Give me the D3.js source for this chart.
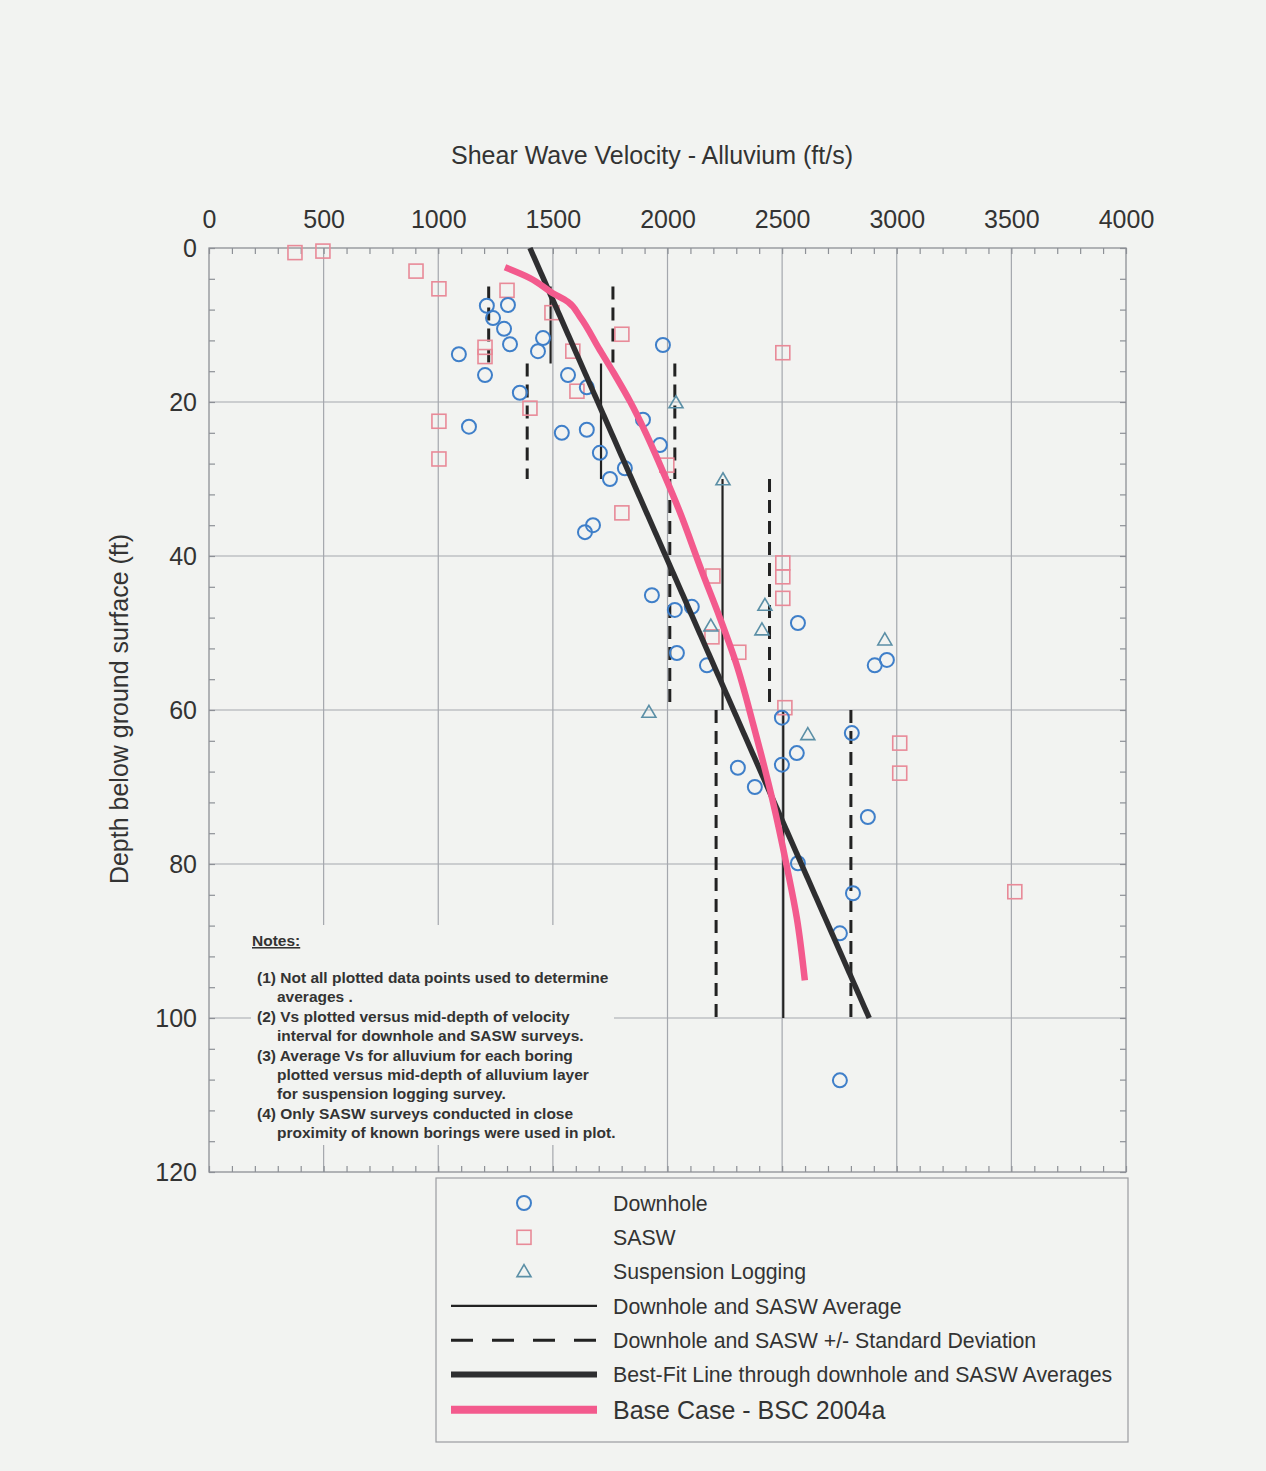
<!DOCTYPE html>
<html>
<head>
<meta charset="utf-8">
<script src="https://cdn.jsdelivr.net/npm/d3@7"></script>
<style>
html,body{margin:0;padding:0;background:#f2f3f1;}
svg{display:block;font-family:"Liberation Sans",Arial,sans-serif;}
</style>
</head>
<body>
<svg id="chart" width="1266" height="1471"></svg>
<script>
// ---------- DATA ----------
const xTickValues = [0,500,1000,1500,2000,2500,3000,3500,4000];
const yTickValues = [0,20,40,60,80,100,120];

// Downhole [velocity ft/s, depth ft]
const downhole = [
  [1212,7.5],[1304,7.4],[1239,9.1],[1287,10.5],[1313,12.5],[1090,13.8],[1204,16.5],
  [1134,23.2],[1356,18.8],[1457,11.7],[1435,13.4],[1566,16.5],[1648,18.1],[1539,24.0],
  [1648,23.6],[1705,26.6],[1749,30.0],[1814,28.6],[1980,12.6],[1893,22.3],[1967,25.6],
  [1640,36.9],[1675,36.0],[1932,45.1],[2032,47.0],[2106,46.6],[2041,52.6],[2172,54.2],
  [2569,48.7],[2904,54.2],[2957,53.5],[2499,61.0],[2804,63.0],[2564,65.6],[2499,67.1],
  [2307,67.5],[2381,70.0],[2874,73.9],[2569,79.9],[2809,83.8],[2752,89.0],[2752,108.1]
];
// SASW
const sasw = [
  [375,0.6],[497,0.4],[903,3.0],[1003,5.3],[1300,5.5],[1204,12.9],[1204,14.1],
  [1003,22.5],[1003,27.4],[1400,20.8],[1496,8.4],[1587,13.4],[1605,18.6],[1801,11.2],
  [1997,28.2],[1801,34.4],[2198,42.6],[2194,50.5],[2311,52.5],[2503,40.9],[2503,42.7],
  [2503,45.5],[2512,59.7],[2503,13.6],[3013,64.3],[3013,68.2],[3515,83.6]
];
// Suspension logging
const suspension = [
  [2037,20.1],[2242,30.1],[2425,46.4],[2412,49.6],[2189,49.1],[2948,50.9],[1919,60.3],[2612,63.2]
];

// Downhole & SASW averages by depth interval
const intervalTop    = [5, 15, 30, 60];
const intervalBottom = [15, 30, 60, 100];
const averageVs      = [1490, 1710, 2240, 2505];
const minusSD        = [1220, 1388, 2010, 2212];
const plusSD         = [1762, 2032, 2445, 2800];

// Best-fit line through averages
const bestFit = [[1400,0],[2880,100]];

// Base case - BSC 2004a
const baseCase = [
  [1291,2.5],[1400,3.9],[1496,5.8],[1566,7.0],[1620,9.0],[1700,13],[1765,16.2],[1838,20],
  [1905,24],[1965,28],[2050,34],[2150,42],[2228,48],[2300,54],[2375,62],[2458,71.7],
  [2521,80.4],[2564,87],[2599,95.1]
];

const notesLines = [
  ["(1) Not all plotted data points used to determine", 0],
  ["averages .", 1],
  ["(2) Vs plotted versus mid-depth of velocity", 0],
  ["interval for downhole and SASW surveys.", 1],
  ["(3) Average Vs for alluvium for each boring", 0],
  ["plotted versus mid-depth of alluvium layer", 1],
  ["for suspension logging survey.", 1],
  ["(4) Only SASW surveys conducted in close", 0],
  ["proximity of known borings were used in plot.", 1]
];

const legendItems = [
  {label:"Downhole", type:"circle"},
  {label:"SASW", type:"square"},
  {label:"Suspension Logging", type:"triangle"},
  {label:"Downhole and SASW Average", type:"avg"},
  {label:"Downhole and SASW +/- Standard Deviation", type:"sd"},
  {label:"Best-Fit Line through downhole and SASW Averages", type:"fit"},
  {label:"Base Case - BSC 2004a", type:"base"}
];

// ---------- STYLE ----------
const C = {
  grid:"#a4a7ad", axis:"#8d9096", text:"#333",
  blue:"#3f7fc9", pink:"#e88a98", teal:"#5b8fa6",
  fit:"#2e2e30", base:"#f35a8d", avg:"#222"
};

const svg = d3.select("#chart");
const x = d3.scaleLinear().domain([0,4000]).range([209,1126]);
const y = d3.scaleLinear().domain([0,120]).range([248,1172]);

// gridlines
const g = svg.append("g");
g.selectAll(".vg").data(xTickValues.slice(1,-1)).join("line")
  .attr("x1",d=>x(d)).attr("x2",d=>x(d)).attr("y1",y(0)).attr("y2",y(120))
  .attr("stroke",C.grid).attr("stroke-width",1.2);
g.selectAll(".hg").data(yTickValues.slice(1,-1)).join("line")
  .attr("x1",x(0)).attr("x2",x(4000)).attr("y1",d=>y(d)).attr("y2",d=>y(d))
  .attr("stroke",C.grid).attr("stroke-width",1.2);

// frame
g.append("rect").attr("x",x(0)).attr("y",y(0)).attr("width",x(4000)-x(0)).attr("height",y(120)-y(0))
  .attr("fill","none").attr("stroke",C.axis).attr("stroke-width",1.3);

// minor ticks
function styleAxis(sel){ sel.select(".domain").remove(); sel.selectAll("line").attr("stroke",C.axis).attr("stroke-width",1.2); }
svg.append("g").attr("transform",`translate(0,${y(0)})`)
  .call(d3.axisTop(x).tickValues(d3.range(0,4001,100)).tickSize(-6).tickFormat("")).call(styleAxis);
svg.append("g").attr("transform",`translate(0,${y(120)})`)
  .call(d3.axisBottom(x).tickValues(d3.range(0,4001,100)).tickSize(-6).tickFormat("")).call(styleAxis);
svg.append("g").attr("transform",`translate(${x(0)},0)`)
  .call(d3.axisLeft(y).tickValues(d3.range(0,121,4)).tickSize(-6).tickFormat("")).call(styleAxis);
svg.append("g").attr("transform",`translate(${x(4000)},0)`)
  .call(d3.axisRight(y).tickValues(d3.range(0,121,4)).tickSize(-6).tickFormat("")).call(styleAxis);

// tick labels
const xa = svg.append("g").attr("transform",`translate(0,${y(0)})`)
  .call(d3.axisTop(x).tickValues(xTickValues).tickSize(0).tickPadding(20).tickFormat(d3.format("d")));
xa.select(".domain").remove();
xa.selectAll("text").attr("font-size",25).attr("fill",C.text).attr("font-family","Liberation Sans, Arial, sans-serif");
const ya = svg.append("g").attr("transform",`translate(${x(0)},0)`)
  .call(d3.axisLeft(y).tickValues(yTickValues).tickSize(0).tickPadding(12).tickFormat(d3.format("d")));
ya.select(".domain").remove();
ya.selectAll("text").attr("font-size",25).attr("fill",C.text).attr("font-family","Liberation Sans, Arial, sans-serif");

// titles
svg.append("text").attr("x",652).attr("y",164).attr("text-anchor","middle")
  .attr("font-size",25).attr("fill",C.text).text("Shear Wave Velocity - Alluvium (ft/s)");
svg.append("text").attr("transform","translate(128,709) rotate(-90)").attr("text-anchor","middle")
  .attr("font-size",25).attr("fill",C.text).text("Depth below ground surface (ft)");

// notes box
svg.append("rect").attr("x",251).attr("y",925).attr("width",363).attr("height",220).attr("fill","#f2f3f1");
svg.append("text").attr("x",252).attr("y",946).attr("font-size",15.5).attr("font-weight","bold")
  .attr("fill",C.text).attr("text-decoration","underline").text("Notes:");
svg.selectAll(".note").data(notesLines).join("text")
  .attr("x",d=>d[1]?277:257).attr("y",(d,i)=>983+i*19.4)
  .attr("font-size",15.5).attr("font-weight","bold").attr("fill",C.text)
  .text(d=>d[0]);

// SD and average lines
const intervals = averageVs.map((a,i)=>({t:intervalTop[i],b:intervalBottom[i],a,lo:minusSD[i],hi:plusSD[i]}));
intervals.forEach(iv=>{
  [iv.lo,iv.hi].forEach(v=>{
    svg.append("line").attr("x1",x(v)).attr("x2",x(v)).attr("y1",y(iv.t)).attr("y2",y(iv.b))
      .attr("stroke",C.avg).attr("stroke-width",3).attr("stroke-dasharray","13,8");
  });
  svg.append("line").attr("x1",x(iv.a)).attr("x2",x(iv.a)).attr("y1",y(iv.t)).attr("y2",y(iv.b))
    .attr("stroke",C.avg).attr("stroke-width",2.2);
});

// markers
function circleMark(sel){ sel.append("circle").attr("r",7).attr("fill","none").attr("stroke",C.blue).attr("stroke-width",2); }
function squareMark(sel){ sel.append("rect").attr("x",-7).attr("y",-7).attr("width",14).attr("height",14).attr("fill","none").attr("stroke",C.pink).attr("stroke-width",1.6); }
function triMark(sel){ sel.append("path").attr("d","M0,-7L7,5L-7,5Z").attr("fill","none").attr("stroke",C.teal).attr("stroke-width",1.6); }

svg.append("g").selectAll("g").data(sasw).join("g")
  .attr("transform",d=>`translate(${x(d[0])},${y(d[1])})`).each(function(){squareMark(d3.select(this));});
svg.append("g").selectAll("g").data(suspension).join("g")
  .attr("transform",d=>`translate(${x(d[0])},${y(d[1])})`).each(function(){triMark(d3.select(this));});
svg.append("g").selectAll("g").data(downhole).join("g")
  .attr("transform",d=>`translate(${x(d[0])},${y(d[1])})`).each(function(){circleMark(d3.select(this));});

// lines
const line = d3.line().x(d=>x(d[0])).y(d=>y(d[1]));
svg.append("path").datum(bestFit).attr("d",line).attr("fill","none").attr("stroke",C.fit).attr("stroke-width",5.5);
svg.append("path").datum(baseCase).attr("d",d3.line().x(d=>x(d[0])).y(d=>y(d[1])).curve(d3.curveMonotoneY))
  .attr("fill","none").attr("stroke",C.base).attr("stroke-width",6.5).attr("stroke-linecap","butt");

// legend
svg.append("rect").attr("x",436).attr("y",1178).attr("width",692).attr("height",264)
  .attr("fill","none").attr("stroke","#9a9ca0").attr("stroke-width",1.2);
const ly0 = 1203, ldy = 34.3;
legendItems.forEach((it,i)=>{
  const yy = ly0 + i*ldy + (it.type==="base"?1:0);
  const gg = svg.append("g");
  if(it.type==="circle"){ circleMark(gg.append("g").attr("transform",`translate(524,${yy})`)); }
  else if(it.type==="square"){ squareMark(gg.append("g").attr("transform",`translate(524,${yy})`)); }
  else if(it.type==="triangle"){ triMark(gg.append("g").attr("transform",`translate(524,${yy})`)); }
  else {
    const ln = gg.append("line").attr("x1",451).attr("x2",597).attr("y1",yy).attr("y2",yy);
    if(it.type==="avg") ln.attr("stroke",C.avg).attr("stroke-width",2.2);
    if(it.type==="sd") ln.attr("stroke",C.avg).attr("stroke-width",3).attr("stroke-dasharray","22,19");
    if(it.type==="fit") ln.attr("stroke",C.fit).attr("stroke-width",6);
    if(it.type==="base") ln.attr("stroke",C.base).attr("stroke-width",8);
  }
  gg.append("text").attr("x",613).attr("y",yy).attr("dy","0.36em")
    .attr("font-size",it.type==="base"?25:21.3).attr("fill",C.text).text(it.label);
});
</script>
</body>
</html>
